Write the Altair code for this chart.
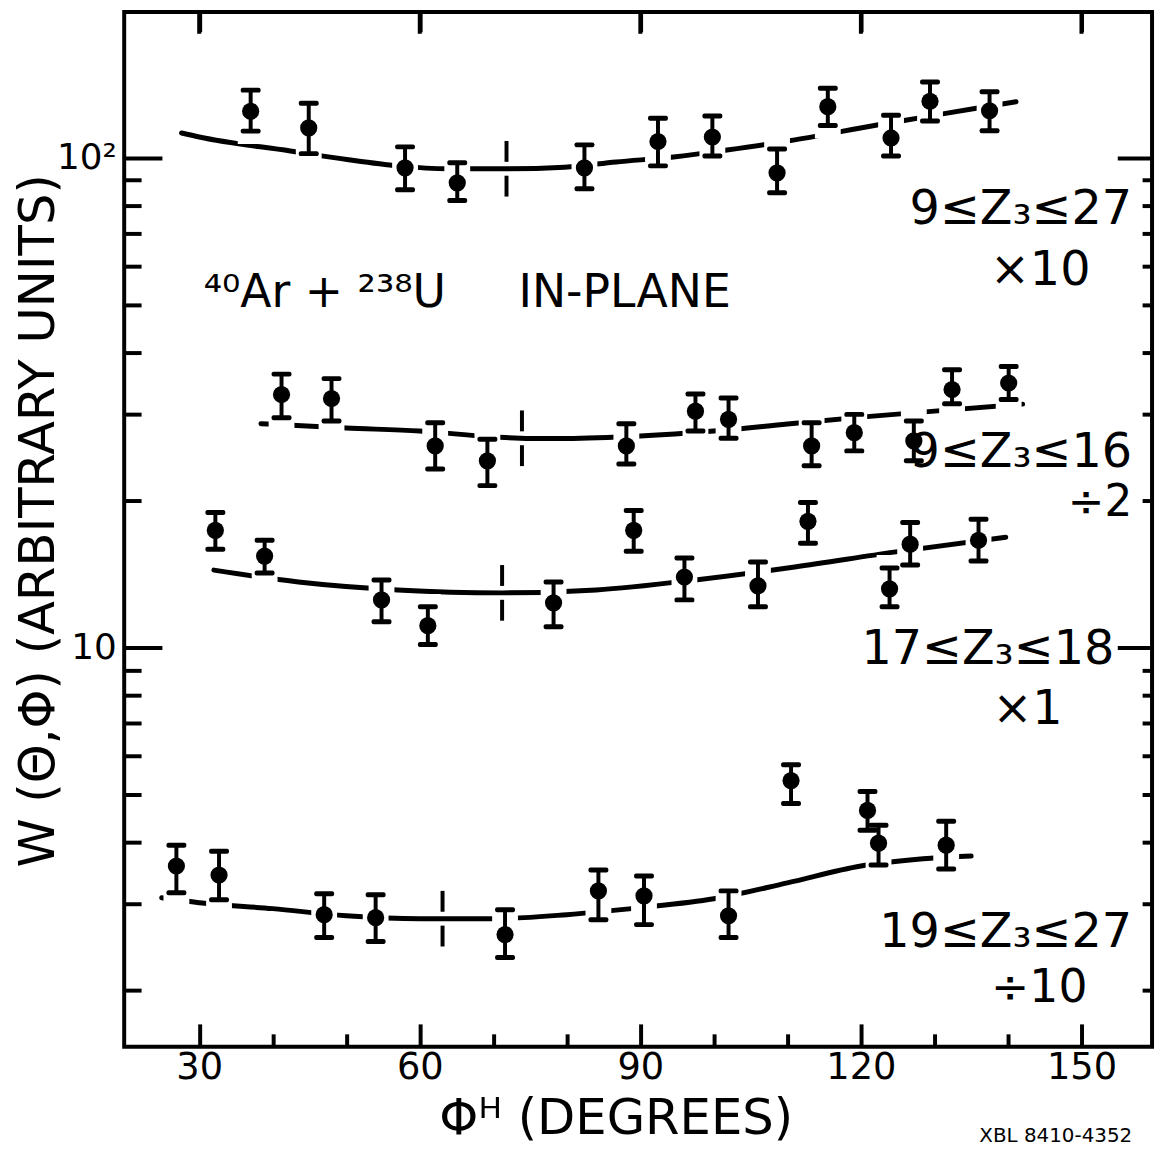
import altair as alt
import pandas as pd

# ---------------- data ----------------
series_names = ["9≤Z₃≤27 ×10", "9≤Z₃≤16 ÷2", "17≤Z₃≤18 ×1", "19≤Z₃≤27 ÷10"]

phi_1 = [37.0, 44.9, 58.0, 65.1, 82.4, 92.4, 99.8, 108.6, 115.5, 124.1, 129.4, 137.5]
w_1 = [124.5, 115.1, 95.4, 88.9, 95.4, 108.0, 110.3, 93.2, 127.2, 109.8, 130.5, 124.8]
lo_1 = [113.4, 102.0, 86.1, 81.8, 86.5, 96.3, 100.9, 84.9, 116.4, 100.9, 118.9, 113.6]
hi_1 = [137.5, 129.3, 105.3, 97.7, 106.3, 120.5, 121.7, 104.3, 138.7, 122.2, 142.9, 136.4]

phi_2 = [41.2, 48.0, 62.1, 69.2, 88.1, 97.5, 102.0, 113.3, 119.1, 127.2, 132.4, 140.1]
w_2 = [32.86, 32.25, 25.81, 24.06, 25.81, 30.39, 29.24, 25.81, 27.46, 26.42, 33.64, 34.69]
lo_2 = [29.46, 29.01, 23.14, 21.41, 23.69, 27.68, 26.75, 23.51, 25.21, 24.06, 31.45, 32.10]
hi_2 = [36.17, 35.41, 28.77, 26.63, 28.64, 32.95, 32.34, 28.77, 29.93, 29.01, 36.92, 37.50]

phi_3 = [32.2, 38.9, 54.8, 61.1, 78.2, 89.1, 96.0, 106.0, 112.8, 123.9, 126.7, 136.0]
w_3 = [17.35, 15.37, 12.51, 11.08, 12.34, 17.35, 13.93, 13.36, 18.10, 13.18, 16.26, 16.56]
lo_3 = [15.88, 14.20, 11.29, 10.14, 11.03, 15.73, 12.51, 12.11, 16.33, 12.11, 14.74, 15.02]
hi_3 = [18.87, 16.56, 13.74, 12.11, 13.61, 19.05, 15.23, 14.95, 19.77, 14.54, 18.01, 18.27]

phi_4 = [26.9, 32.7, 47.0, 54.0, 71.6, 84.3, 90.5, 102.0, 110.5, 120.9, 122.4, 131.6]
w_4 = [3.579, 3.431, 2.847, 2.807, 2.593, 3.184, 3.111, 2.833, 5.349, 4.648, 3.985, 3.948]
lo_4 = [3.155, 3.053, 2.557, 2.510, 2.328, 2.781, 2.717, 2.557, 4.803, 4.234, 3.595, 3.529]
hi_4 = [3.948, 3.838, 3.141, 3.126, 2.914, 3.512, 3.415, 3.184, 5.762, 5.080, 4.334, 4.416]

# fitted curves
fit_phi_1 = [27.6, 30, 42.4, 50.3, 57, 63.8, 71.9, 79.7, 86.7, 94.8, 101.8, 111, 122.2, 128.6, 135.7, 141.1]
fit_w_1 = [112.4, 110.3, 103.3, 99.1, 96.3, 95.0, 95.0, 95.7, 98.1, 100.5, 103.8, 108.8, 116.7, 121.1, 126.3, 130.2]
fit_phi_2 = [38.4, 50, 60, 70, 75, 80, 90, 100, 110, 120, 130, 142]
fit_w_2 = [28.64, 28.07, 27.68, 26.92, 26.73, 26.73, 27.04, 27.68, 28.60, 29.55, 30.39, 31.41]
fit_phi_3 = [32.0, 43.5, 57.0, 71.2, 84.0, 97.5, 111.0, 124.5, 139.7]
fit_w_3 = [14.39, 13.61, 13.11, 12.93, 13.11, 13.74, 14.60, 15.66, 16.80]
fit_phi_4 = [24.9, 30, 40, 50, 60, 70, 80, 90, 100, 110, 120, 130, 135]
fit_w_4 = [3.083, 3.012, 2.929, 2.833, 2.794, 2.794, 2.847, 2.943, 3.069, 3.306, 3.579, 3.715, 3.750]

# position of the marked minimum of each curve
min_phi = [71.8, 73.9, 71.2, 63.1]
min_w = [95.0, 26.75, 12.93, 2.794]

x_major = [30, 60, 90, 120, 150]
x_minor = [40, 50, 70, 80, 100, 110, 130, 140]
y_major = [10, 100]
y_minor = [2, 3, 4, 5, 6, 7, 8, 9, 20, 30, 40, 50, 60, 70, 80, 90]

texts = ["9≤Z₃≤27", "×10", "⁴⁰Ar + ²³⁸U", "IN-PLANE", "9≤Z₃≤16", "÷2",
         "17≤Z₃≤18", "×1", "19≤Z₃≤27", "÷10", "XBL 8410-4352"]

# ---------------- tables ----------------
rows = []
for name, ph, w, lo, hi in zip(series_names,
                               [phi_1, phi_2, phi_3, phi_4],
                               [w_1, w_2, w_3, w_4],
                               [lo_1, lo_2, lo_3, lo_4],
                               [hi_1, hi_2, hi_3, hi_4]):
    for a, b, c, d in zip(ph, w, lo, hi):
        rows.append({"series": name, "phi": a, "w": b, "lo": c, "hi": d})
pts = pd.DataFrame(rows)

frows = []
for name, ph, w in zip(series_names,
                       [fit_phi_1, fit_phi_2, fit_phi_3, fit_phi_4],
                       [fit_w_1, fit_w_2, fit_w_3, fit_w_4]):
    for a, b in zip(ph, w):
        frows.append({"series": name, "phi": a, "w": b})
fit = pd.DataFrame(frows)

mins = pd.DataFrame({"series": series_names, "phi": min_phi, "w": min_w})
top_ticks = pd.DataFrame({"phi": x_major})

# ---------------- styling ----------------
FONT = "DejaVu Sans"
W, H = 1035, 1042
xs = alt.Scale(domain=[19.8, 159.6], nice=False, zero=False)
ys = alt.Scale(type="log", domain=[1.53, 198.6], nice=False)


def X(field="phi", axis=None):
    return alt.X(f"{field}:Q", scale=xs, axis=axis)


def Y(field="w", axis=None):
    return alt.Y(f"{field}:Q", scale=ys, axis=axis)


def tick_axis(orient, values, size):
    return alt.Axis(orient=orient, values=values, tickSize=size, offset=-size,
                    tickWidth=4, tickColor="black", labels=False, domain=False,
                    grid=False, title=None)


def axis_layer(xaxis, yaxis):
    return alt.Chart(pts).mark_point(opacity=0).encode(x=X(axis=xaxis), y=Y(axis=yaxis))


x_label_axis = alt.Axis(orient="bottom", values=x_major, ticks=False, grid=False, domain=False,
                        labelFont=FONT, labelFontSize=37, labelColor="black", labelPadding=3,
                        title="Φᴴ (DEGREES)", titleFont=FONT, titleFontSize=50,
                        titleFontWeight="normal", titleColor="black", titlePadding=8, titleX=495)
y_label_axis = alt.Axis(orient="left", values=y_major, ticks=False, grid=False, domain=False,
                        labelExpr="datum.value >= 100 ? '10²' : '10'",
                        labelFont=FONT, labelFontSize=36, labelColor="black", labelPadding=8,
                        title="W (Θ,Φ) (ARBITRARY UNITS)", titleFont=FONT, titleFontSize=50,
                        titleFontWeight="normal", titleColor="black",
                        titleBaseline="middle", titleX=-86, titleY=512)

axes = [
    axis_layer(x_label_axis, y_label_axis),
    axis_layer(tick_axis("top", x_major, 20), tick_axis("right", y_major, 35)),
    axis_layer(tick_axis("bottom", x_major, 23), tick_axis("left", y_major, 38)),
    axis_layer(tick_axis("bottom", x_minor, 13), tick_axis("left", y_minor, 17)),
    axis_layer(None, tick_axis("right", y_minor, 10)),
]

dash = alt.Chart(mins).mark_tick(orient="vertical", size=56, thickness=4, color="black",
                                 opacity=1).encode(x=X(), y=Y())
dash_gap = alt.Chart(mins).mark_tick(orient="vertical", size=14, thickness=10, color="white",
                                     opacity=1).encode(x=X(), y=Y())
curve = alt.Chart(fit).mark_line(color="black", strokeWidth=5, interpolate="monotone",
                                 strokeCap="round").encode(x=X(), y=Y(), detail="series:N")
halo = alt.Chart(pts).mark_rule(color="white", strokeWidth=26, strokeCap="square").encode(
    x=X(), y=Y("lo"), y2="hi:Q")
bars = alt.Chart(pts).mark_rule(color="black", strokeWidth=4).encode(x=X(), y=Y("lo"), y2="hi:Q")
cap_lo = alt.Chart(pts).mark_tick(orient="horizontal", size=20, thickness=5, color="black",
                                  opacity=1, cornerRadius=2).encode(x=X(), y=Y("lo"))
cap_hi = alt.Chart(pts).mark_tick(orient="horizontal", size=20, thickness=5, color="black",
                                  opacity=1, cornerRadius=2).encode(x=X(), y=Y("hi"))
dots = alt.Chart(pts).mark_circle(size=300, color="black", opacity=1).encode(x=X(), y=Y())

# short ticks hanging from the top edge of the frame (drawn last)
top_marks = alt.Chart(top_ticks).mark_rule(color="black", strokeWidth=4, opacity=1).encode(
    x=X(), y=alt.value(0), y2=alt.value(22))

one = pd.DataFrame({"k": [0]})


def label(txt, x, y, size=48, align="right"):
    return alt.Chart(one).mark_text(text=txt, font=FONT, fontSize=size, align=align,
                                    baseline="alphabetic", color="black").encode(
        x=alt.value(x), y=alt.value(y))


labels = [
    label(texts[0], 1015, 214),
    label(texts[1], 973, 275),
    label(texts[2], 80, 297, 46, "left"),
    label(texts[3], 397, 297, 46, "left"),
    label(texts[4], 1015, 458),
    label(texts[5], 1015, 508, 44),
    label(texts[6], 997, 657),
    label(texts[7], 945, 717),
    label(texts[8], 1015, 942),
    label(texts[9], 970, 997, 46),
    label(texts[10], 1015, 1138, 20),
]

chart = alt.layer(*axes, dash, dash_gap, curve, halo, bars, cap_lo, cap_hi, dots,
                  *labels, top_marks).properties(
    width=W, height=H,
    background="white",
    autosize=alt.AutoSizeParams(type="none"),
    padding={"left": 117, "top": 0, "right": 6, "bottom": 99},
).configure_view(stroke="black", strokeWidth=4)

chart.save("out.html", embed_options={"renderer": "svg", "actions": False})
